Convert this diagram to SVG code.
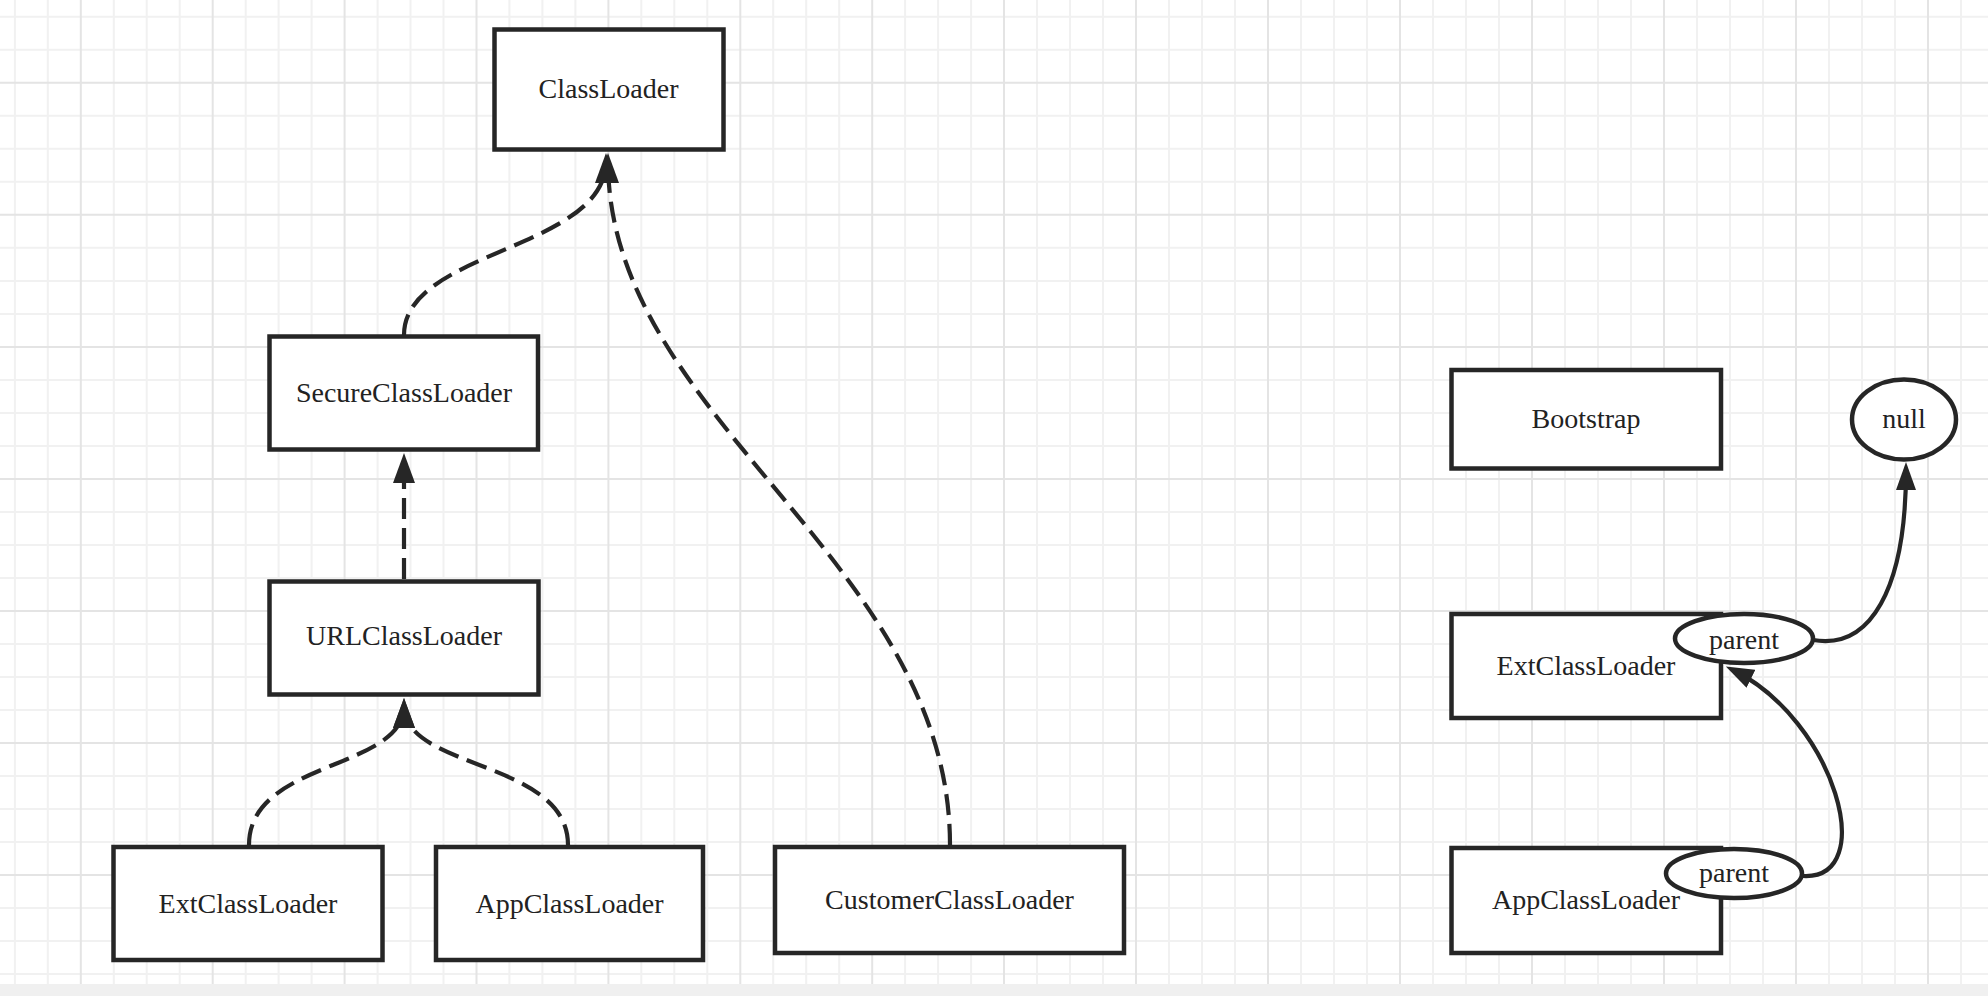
<svg xmlns="http://www.w3.org/2000/svg" width="1988" height="996" viewBox="0 0 1988 996">
<style>
.minor{stroke:#f1f1f1;stroke-width:2;fill:none}
.major{stroke:#e4e4e4;stroke-width:2;fill:none}
.box{fill:#ffffff;stroke:#262626;stroke-width:4.5}
.lbl{font-family:"Liberation Serif","Times New Roman",serif;font-size:28px;fill:#222222;text-anchor:middle}
.dash{fill:none;stroke:#262626;stroke-width:4.2;stroke-dasharray:21 9}
.solid{fill:none;stroke:#262626;stroke-width:4.2}
</style>
<defs>
<marker id="arr" markerUnits="userSpaceOnUse" markerWidth="30" markerHeight="22" refX="22" refY="11" orient="auto">
<path d="M0,0 L30,11 L0,22 Z" fill="#262626"/>
</marker>
<marker id="arr2" markerUnits="userSpaceOnUse" markerWidth="28" markerHeight="20" refX="20" refY="10" orient="auto">
<path d="M0,0 L28,10 L0,20 Z" fill="#262626"/>
</marker>
</defs>
<rect x="0" y="0" width="1988" height="996" fill="#ffffff"/>
<g id="grid">
<path class="minor" d="M14.9,0V984M47.8,0V984M113.8,0V984M146.7,0V984M179.7,0V984M245.7,0V984M278.6,0V984M311.6,0V984M377.6,0V984M410.5,0V984M443.5,0V984M509.4,0V984M542.4,0V984M575.4,0V984M641.3,0V984M674.3,0V984M707.3,0V984M773.2,0V984M806.2,0V984M839.2,0V984M905.1,0V984M938.1,0V984M971.1,0V984M1037,0V984M1070,0V984M1103,0V984M1169,0V984M1202,0V984M1235,0V984M1301,0V984M1334,0V984M1367,0V984M1433,0V984M1466,0V984M1499,0V984M1565,0V984M1598,0V984M1631,0V984M1697,0V984M1730,0V984M1763,0V984M1829,0V984M1862,0V984M1895,0V984M1961,0V984"/>
<path class="minor" d="M0,16.7H1988M0,49.7H1988M0,115.8H1988M0,148.8H1988M0,181.8H1988M0,247.8H1988M0,280.9H1988M0,313.9H1988M0,379.9H1988M0,413H1988M0,446H1988M0,512H1988M0,545H1988M0,578H1988M0,644H1988M0,677H1988M0,710H1988M0,776H1988M0,809H1988M0,842H1988M0,908H1988M0,941H1988M0,974H1988"/>
<path class="major" d="M80.8,0V984M212.7,0V984M344.6,0V984M476.5,0V984M608.4,0V984M740.3,0V984M872.2,0V984M1004,0V984M1136,0V984M1268,0V984M1400,0V984M1532,0V984M1664,0V984M1796,0V984M1928,0V984"/>
<path class="major" d="M0,82.7H1988M0,214.8H1988M0,346.9H1988M0,479H1988M0,611H1988M0,743H1988M0,875H1988"/>
<rect x="0" y="984" width="1988" height="12" fill="#f0f0f0"/>
</g>
<g id="connectors">
<path class="dash" d="M404,335 C404,250 606,250 606,161" marker-end="url(#arr)"/>
<path class="dash" d="M950,845 C950,560 608,420 608,161" marker-end="url(#arr)"/>
<path class="dash" d="M404,579 L404,461" marker-end="url(#arr)"/>
<path class="dash" d="M249,845 C249,760 404,770 404,706" marker-end="url(#arr)"/>
<path class="dash" d="M568,845 C568,760 404,770 404,706" marker-end="url(#arr)"/>
<path class="solid" d="M1803,876 C1880,880 1835,720 1733,670" marker-end="url(#arr2)"/>
<path class="solid" d="M1813,640 C1870,650 1906,590 1906,470" marker-end="url(#arr2)"/>
</g>
<g id="classloader"><rect class="box" x="494.5" y="29.5" width="229" height="120"/><text class="lbl" x="608.5" y="98">ClassLoader</text></g>
<g id="secureclassloader"><rect class="box" x="269.5" y="336.5" width="268.5" height="113"/><text class="lbl" x="404" y="402">SecureClassLoader</text></g>
<g id="urlclassloader"><rect class="box" x="269.5" y="581.5" width="269" height="113"/><text class="lbl" x="404" y="645">URLClassLoader</text></g>
<g id="extclassloader-left"><rect class="box" x="113.5" y="847" width="269" height="113"/><text class="lbl" x="248" y="913">ExtClassLoader</text></g>
<g id="appclassloader-left"><rect class="box" x="436" y="847" width="267" height="113"/><text class="lbl" x="569.5" y="913">AppClassLoader</text></g>
<g id="customerclassloader"><rect class="box" x="775" y="847" width="349" height="106"/><text class="lbl" x="949.5" y="909">CustomerClassLoader</text></g>
<g id="bootstrap"><rect class="box" x="1451.5" y="370" width="269.5" height="98.5"/><text class="lbl" x="1586" y="428">Bootstrap</text></g>
<g id="null"><ellipse class="box" cx="1904" cy="419.5" rx="52" ry="40"/><text class="lbl" x="1904" y="428">null</text></g>
<g id="extclassloader-right"><rect class="box" x="1451.5" y="614" width="269.5" height="104"/><text class="lbl" x="1586" y="675">ExtClassLoader</text></g>
<g id="ext-parent"><ellipse class="box" cx="1744" cy="638.5" rx="69" ry="24.5"/><text class="lbl" x="1744" y="649">parent</text></g>
<g id="appclassloader-right"><rect class="box" x="1451.5" y="848" width="269.5" height="105"/><text class="lbl" x="1586" y="909">AppClassLoader</text></g>
<g id="app-parent"><ellipse class="box" cx="1734" cy="873.5" rx="68" ry="24.5"/><text class="lbl" x="1734" y="882">parent</text></g>
</svg>
